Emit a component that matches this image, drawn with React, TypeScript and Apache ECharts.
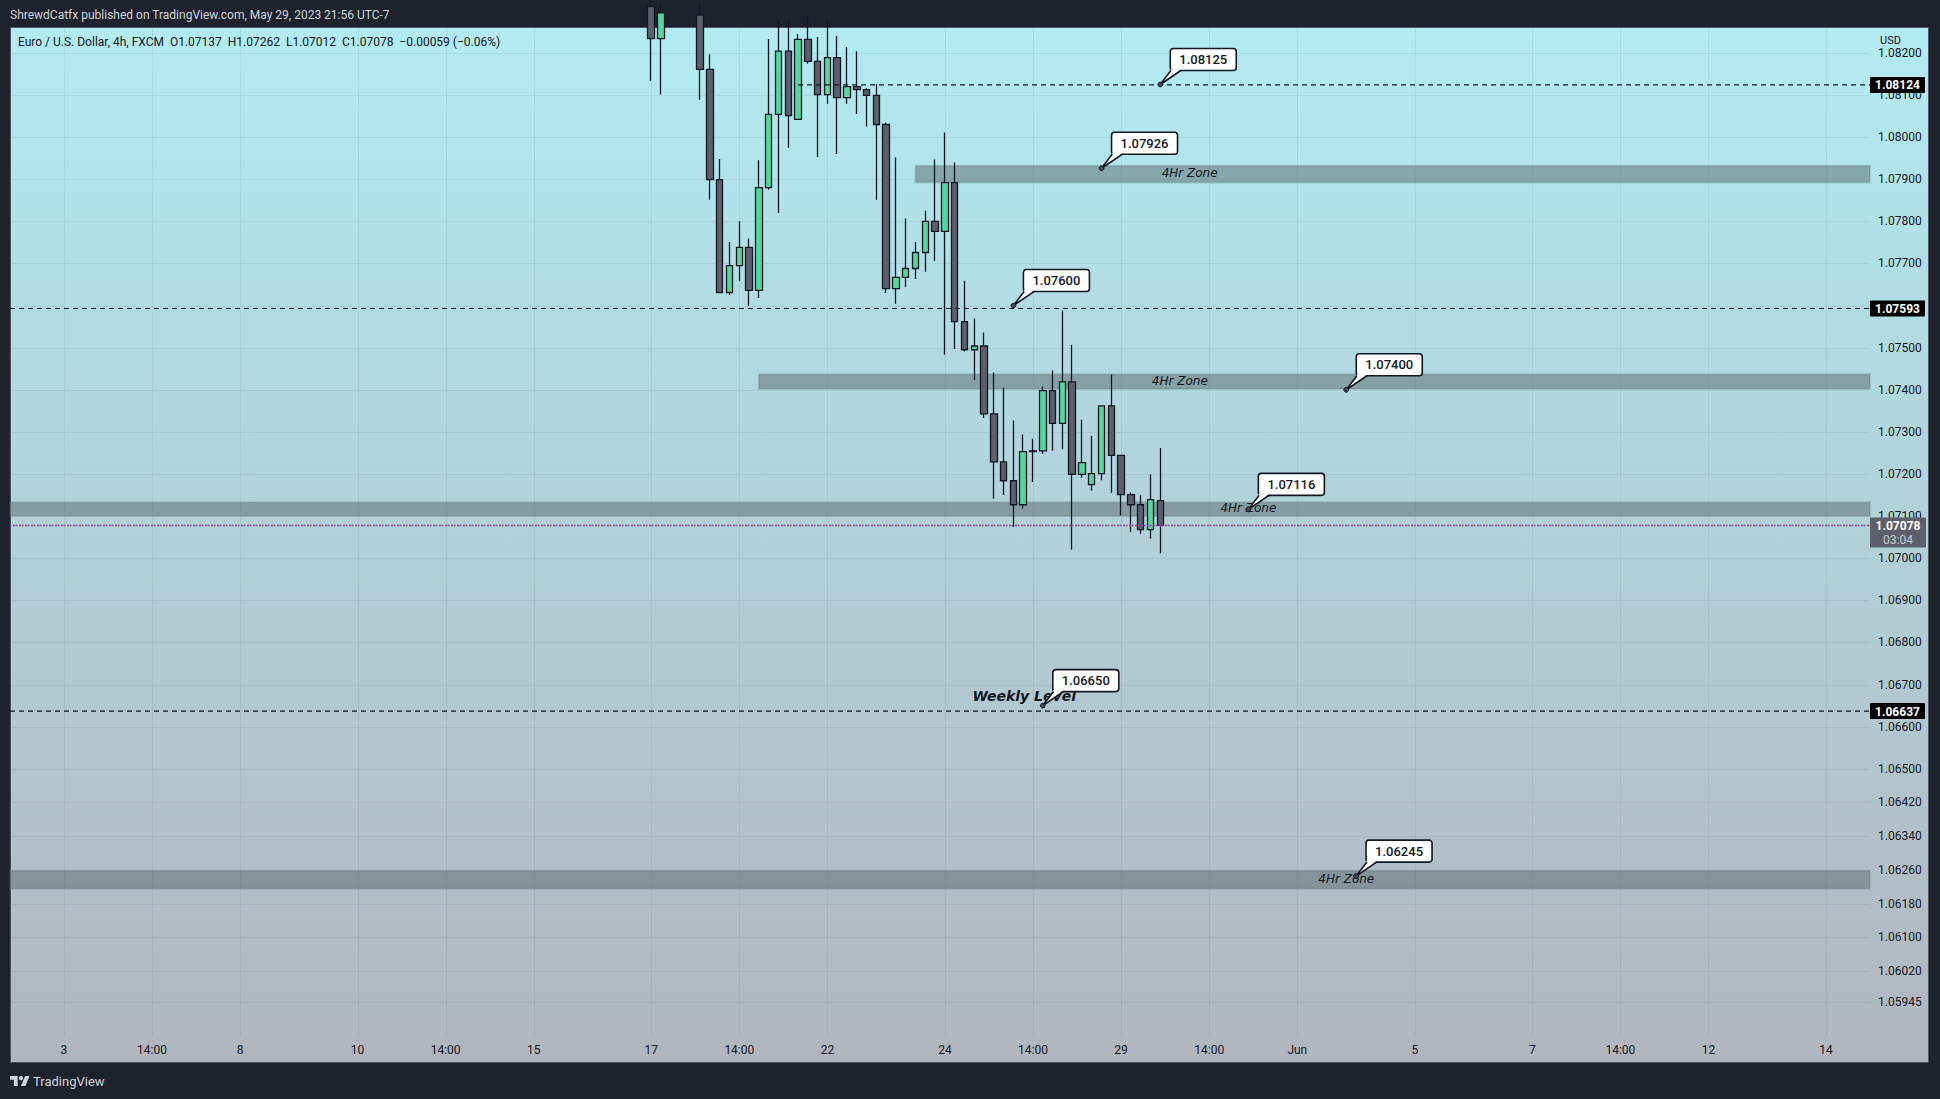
import React, { useEffect, useRef } from 'react';
import * as echarts from 'echarts';

// ---------- texts ----------
const HEADER_TEXT = 'ShrewdCatfx published on TradingView.com, May 29, 2023 21:56 UTC-7';
const SYMBOL_TEXT = 'Euro / U.S. Dollar, 4h, FXCM  O1.07137  H1.07262  L1.07012  C1.07078  \u22120.00059 (\u22120.06%)';
const CURRENCY = 'USD';
const COUNTDOWN = '03:04';
const BRAND = 'TradingView';

// ---------- time axis (4h FXCM session bars, UTC-7) ----------
const FIRST_BAR = '2023-05-02 06:00';
const BAR_COUNT = 190;
const TIME_TICK_TIMES = [
  '2023-05-03 02:00', '2023-05-04 14:00', '2023-05-08 02:00', '2023-05-10 02:00', '2023-05-11 14:00',
  '2023-05-15 02:00', '2023-05-17 02:00', '2023-05-18 14:00', '2023-05-22 02:00', '2023-05-24 02:00',
  '2023-05-25 14:00', '2023-05-29 02:00', '2023-05-30 14:00', '2023-06-01 02:00', '2023-06-05 02:00',
  '2023-06-07 02:00', '2023-06-08 14:00', '2023-06-12 02:00', '2023-06-14 02:00',
];
const TIME_TICK_LABELS = ['3', '14:00', '8', '10', '14:00', '15', '17', '14:00', '22', '24', '14:00', '29', '14:00', 'Jun', '5', '7', '14:00', '12', '14'];

// ---------- price axis ----------
const PRICE_MIN = 1.058654;
const PRICE_MAX = 1.082615;
const PRICE_TICKS = [
  1.082, 1.081, 1.08, 1.079, 1.078, 1.077, 1.076, 1.075, 1.074, 1.073, 1.072, 1.071, 1.07,
  1.069, 1.068, 1.067, 1.066, 1.065, 1.0642, 1.0634, 1.0626, 1.0618, 1.061, 1.0602, 1.05945,
];

// ---------- candles (from 2023-05-17 02:00) ----------
const CANDLE_FIRST = '2023-05-17 02:00';
const OPEN = [
  1.08310, 1.08234, 1.08295, 1.08335, 1.08300, 1.08290, 1.08161, 1.07899, 1.07631, 1.07695,
  1.07738, 1.07636, 1.07880, 1.08054, 1.08204, 1.08042, 1.08232, 1.08180, 1.08101, 1.08189,
  1.08094, 1.08120, 1.08113, 1.08099, 1.08030, 1.07640, 1.07667, 1.07688, 1.07726, 1.07800,
  1.07776, 1.07892, 1.07562, 1.07495, 1.07504, 1.07343, 1.07229, 1.07184, 1.07127, 1.07255,
  1.07255, 1.07398, 1.07320, 1.07419, 1.07199, 1.07175, 1.07201, 1.07362, 1.07244, 1.07151,
  1.07127, 1.07068, 1.07137,
];
const HIGH = [
  1.08330, 1.08320, 1.08360, 1.08380, 1.08345, 1.08320, 1.08197, 1.07948, 1.07751, 1.07800,
  1.07759, 1.07945, 1.08233, 1.08275, 1.08280, 1.08245, 1.08290, 1.08238, 1.08280, 1.08240,
  1.08214, 1.08204, 1.08116, 1.08126, 1.08035, 1.07952, 1.07807, 1.07751, 1.07825, 1.07947,
  1.08011, 1.07940, 1.07659, 1.07569, 1.07536, 1.07441, 1.07405, 1.07327, 1.07294, 1.07284,
  1.07408, 1.07446, 1.07588, 1.07507, 1.07329, 1.07291, 1.07362, 1.07436, 1.07244, 1.07156,
  1.07150, 1.07199, 1.07262,
];
const LOW = [
  1.08134, 1.08101, 1.08272, 1.08280, 1.08275, 1.08089, 1.07851, 1.07629, 1.07625, 1.07659,
  1.07599, 1.07618, 1.07875, 1.07820, 1.07975, 1.08042, 1.08174, 1.07953, 1.08079, 1.07960,
  1.08079, 1.08055, 1.08025, 1.07851, 1.07630, 1.07604, 1.07644, 1.07663, 1.07680, 1.07706,
  1.07483, 1.07497, 1.07491, 1.07423, 1.07333, 1.07141, 1.07150, 1.07074, 1.07118, 1.07181,
  1.07248, 1.07255, 1.07259, 1.07020, 1.07191, 1.07160, 1.07185, 1.07155, 1.07102, 1.07062,
  1.07058, 1.07046, 1.07012,
];
const CLOSE = [
  1.08234, 1.08295, 1.08335, 1.08300, 1.08290, 1.08161, 1.07899, 1.07631, 1.07695, 1.07738,
  1.07636, 1.07880, 1.08054, 1.08204, 1.08051, 1.08232, 1.08180, 1.08101, 1.08189, 1.08094,
  1.08120, 1.08113, 1.08099, 1.08030, 1.07640, 1.07667, 1.07688, 1.07726, 1.07800, 1.07776,
  1.07892, 1.07562, 1.07495, 1.07504, 1.07343, 1.07229, 1.07184, 1.07127, 1.07253, 1.07253,
  1.07398, 1.07320, 1.07419, 1.07199, 1.07227, 1.07201, 1.07362, 1.07244, 1.07151, 1.07127,
  1.07068, 1.07139, 1.07078,
];
const LAST_PRICE = 1.07078;

// ---------- drawings ----------
const ZONE_START = [92, 76, 0, 0]; // bar index, 0 = from the left edge
const ZONE_LOW = [1.07892, 1.07402, 1.07100, 1.06215];
const ZONE_HIGH = [1.07932, 1.07437, 1.07133, 1.06258];
const ZONE_LABEL_BAR = [120, 119, 126, 136];
const ZONE_LABEL = '4Hr Zone';

const LEVEL_PRICE = [1.08124, 1.07593, 1.06637];
const LEVEL_START = [80, 0, 0];

const CALLOUT_BAR = [117, 111, 102, 136, 126, 105, 137];
const CALLOUT_PRICE = [1.08125, 1.07926, 1.07600, 1.07400, 1.07116, 1.06650, 1.06245];

const NOTE_TEXT = ['Weekly Level'];
const NOTE_BAR = [103];
const NOTE_PRICE = [1.06672];

// ---------- colours ----------
const INK = '#131722';
const UP = '#56d69f';
const DOWN = '#5d606b';
const GRID = 'rgba(42,46,57,0.07)';
const ZONE_FILL = 'rgba(92,110,112,0.52)';
const ZONE_EDGE = 'rgba(92,110,112,0.25)';
const FONT = 'Roboto, "Noto Sans", sans-serif';

function pad(n: number) { return n < 10 ? '0' + n : '' + n; }
function fmt(d: Date) {
  return `${d.getUTCFullYear()}-${pad(d.getUTCMonth() + 1)}-${pad(d.getUTCDate())} ${pad(d.getUTCHours())}:00`;
}
function isSessionBar(d: Date) {
  const wd = d.getUTCDay();
  const h = d.getUTCHours();
  if (wd === 6) return false;
  if (wd === 0) return h >= 14;
  if (wd === 5) return h <= 10;
  return true;
}
function buildTimes(): string[] {
  const [ds, ts] = FIRST_BAR.split(' ');
  const [y, m, dd] = ds.split('-').map(Number);
  const hh = Number(ts.split(':')[0]);
  let t = Date.UTC(y, m - 1, dd, hh);
  const out: string[] = [];
  while (out.length < BAR_COUNT) {
    const d = new Date(t);
    if (isSessionBar(d)) out.push(fmt(d));
    t += 4 * 3600 * 1000;
  }
  return out;
}

export default function App() {
  const ref = useRef<HTMLDivElement>(null);

  useEffect(() => {
    const el = ref.current!;
    const chart = echarts.init(el, undefined, { renderer: 'svg' });
    echarts.graphic.registerShape(
      'tvlogo',
      echarts.graphic.extendPath('M14 22H7V11H0V4h14v18zM28 22h-8l7.5-18h8L28 22z', {})
    );

    const times = buildTimes();
    const tickIdx = TIME_TICK_TIMES.map((t) => times.indexOf(t));
    const labelMap = new Map<number, string>();
    tickIdx.forEach((i, k) => labelMap.set(i, TIME_TICK_LABELS[k]));
    const first = times.indexOf(CANDLE_FIRST);

    const candleData = times.map((_, i) => {
      const k = i - first;
      if (k < 0 || k >= OPEN.length) return ['-', '-', '-', '-'];
      return [OPEN[k], CLOSE[k], LOW[k], HIGH[k]];
    });

    const option: any = {
      animation: false,
      backgroundColor: '#1e222d',
      grid: { left: 10, top: 27, width: 1860, height: 1009, containLabel: false },
      xAxis: {
        type: 'category',
        data: times,
        boundaryGap: true,
        axisLine: { show: false },
        axisTick: { show: false },
        splitLine: { show: false },
        axisLabel: {
          interval: (i: number) => labelMap.has(i),
          formatter: (_v: string, i: number) => labelMap.get(i) ?? '',
          color: INK,
          fontSize: 12,
          fontFamily: FONT,
          margin: 8,
        },
      },
      yAxis: {
        type: 'value',
        position: 'right',
        min: PRICE_MIN,
        max: PRICE_MAX,
        scale: true,
        axisLine: { show: false },
        axisTick: { show: false },
        splitLine: { show: false },
        axisLabel: {
          customValues: PRICE_TICKS,
          formatter: (v: number) => v.toFixed(5),
          color: INK,
          fontSize: 12,
          fontFamily: FONT,
          margin: 8,
        },
      },
      graphic: {
        elements: [
          {
            type: 'rect', z: -100, silent: true,
            shape: { x: 10.5, y: 27.5, width: 1918, height: 1035 },
            style: {
              fill: new echarts.graphic.LinearGradient(0, 0, 0, 1, [
                { offset: 0, color: '#b2ebf2' },
                { offset: 1, color: '#b2b5be' },
              ]),
              stroke: '#50535e', lineWidth: 1,
            },
          },
          { type: 'text', x: 10, y: 15, silent: true, style: { text: HEADER_TEXT, fill: '#d1d4dc', font: `12px ${FONT}`, verticalAlign: 'middle' } },
          { type: 'text', x: 18, y: 42, silent: true, style: { text: SYMBOL_TEXT, fill: INK, font: `12px ${FONT}`, verticalAlign: 'middle' } },
          { type: 'text', x: 1880, y: 40, silent: true, style: { text: CURRENCY, fill: INK, font: `11px ${FONT}`, verticalAlign: 'middle' } },
          { type: 'tvlogo', x: 10, y: 1073.8, scaleX: 0.55, scaleY: 0.55, silent: true, style: { fill: '#d1d4dc' } },
          { type: 'circle', silent: true, shape: { cx: 10 + 20 * 0.55, cy: 1073.8 + 8 * 0.55, r: 4 * 0.55 }, style: { fill: '#d1d4dc' } },
          { type: 'text', x: 33, y: 1081, silent: true, style: { text: BRAND, fill: '#d1d4dc', font: `13px ${FONT}`, verticalAlign: 'middle' } },
        ],
      },
      series: [
        // horizontal grid
        {
          type: 'custom', z: 1, silent: true, clip: false,
          data: PRICE_TICKS.map((v) => [0, v]),
          renderItem: (params: any, api: any) => {
            const cs = params.coordSys;
            const y = Math.round(api.coord([0, api.value(1)])[1]) + 0.5;
            return { type: 'line', shape: { x1: cs.x, y1: y, x2: cs.x + cs.width, y2: y }, style: { stroke: GRID, lineWidth: 1 } };
          },
        },
        // vertical grid
        {
          type: 'custom', z: 1, silent: true, clip: false,
          data: tickIdx.map((i) => [i, PRICE_MIN]),
          renderItem: (params: any, api: any) => {
            const cs = params.coordSys;
            const x = Math.round(api.coord([api.value(0), PRICE_MIN])[0]) + 0.5;
            return { type: 'line', shape: { x1: x, y1: cs.y, x2: x, y2: cs.y + cs.height }, style: { stroke: GRID, lineWidth: 1 } };
          },
        },
        // zones
        {
          type: 'custom', z: 2, silent: true, clip: false,
          data: ZONE_START.map((s, i) => [s, ZONE_LOW[i], ZONE_HIGH[i]]),
          renderItem: (params: any, api: any) => {
            const i = params.dataIndex;
            const cs = params.coordSys;
            const x0 = ZONE_START[i] === 0 ? cs.x : api.coord([ZONE_START[i], ZONE_LOW[i]])[0];
            const yTop = api.coord([0, ZONE_HIGH[i]])[1];
            const yBot = api.coord([0, ZONE_LOW[i]])[1];
            const lbl = api.coord([ZONE_LABEL_BAR[i], (ZONE_LOW[i] + ZONE_HIGH[i]) / 2]);
            return {
              type: 'group',
              children: [
                { type: 'rect', shape: { x: x0, y: yTop, width: cs.x + cs.width - x0, height: yBot - yTop }, style: { fill: ZONE_FILL, stroke: ZONE_EDGE, lineWidth: 2 } },
                { type: 'text', x: lbl[0], y: lbl[1] - 1, style: { text: ZONE_LABEL, fill: INK, font: `italic 12px "DejaVu Sans", ${FONT}`, align: 'center', verticalAlign: 'middle' } },
              ],
            };
          },
        },
        // candles
        {
          type: 'candlestick', z: 3, clip: true, barWidth: 7,
          data: candleData,
          itemStyle: { color: UP, color0: DOWN, borderColor: INK, borderColor0: INK, borderWidth: 1.3 },
        },
        // horizontal levels with axis tags
        {
          type: 'custom', z: 4, silent: true, clip: false,
          data: LEVEL_PRICE.map((p, i) => [LEVEL_START[i], p]),
          renderItem: (params: any, api: any) => {
            const i = params.dataIndex;
            const cs = params.coordSys;
            const y = api.coord([0, LEVEL_PRICE[i]])[1];
            const x0 = LEVEL_START[i] === 0 ? cs.x : api.coord([LEVEL_START[i], LEVEL_PRICE[i]])[0];
            const xr = cs.x + cs.width;
            return {
              type: 'group',
              children: [
                { type: 'line', shape: { x1: x0, y1: y, x2: xr, y2: y }, style: { stroke: INK, lineWidth: 1.2, lineDash: [5, 4] } },
                { type: 'rect', shape: { x: xr, y: y - 8, width: 55, height: 16, r: 1 }, style: { fill: '#000000' } },
                { type: 'text', x: xr + 27.5, y: y + 0.5, style: { text: LEVEL_PRICE[i].toFixed(5), fill: '#ffffff', font: `bold 12px ${FONT}`, align: 'center', verticalAlign: 'middle' } },
              ],
            };
          },
        },
        // last price line + tag
        {
          type: 'custom', z: 4, silent: true, clip: false,
          data: [[0, LAST_PRICE]],
          renderItem: (params: any, api: any) => {
            const cs = params.coordSys;
            const y = Math.round(api.coord([0, LAST_PRICE])[1]) + 0.5;
            const xr = cs.x + cs.width;
            return {
              type: 'group',
              children: [
                { type: 'line', shape: { x1: cs.x, y1: y, x2: xr, y2: y }, style: { stroke: '#2962ff', lineWidth: 1.3, lineDash: [1.5, 1.5] } },
                { type: 'line', shape: { x1: cs.x, y1: y, x2: xr, y2: y }, style: { stroke: '#f23645', lineWidth: 1.3, lineDash: [1.5, 4.5], lineDashOffset: 1.5 } },
                { type: 'rect', shape: { x: xr, y: y - 8, width: 56, height: 30, r: 1 }, style: { fill: '#5d606b' } },
                { type: 'text', x: xr + 28, y: y + 0.5, style: { text: LAST_PRICE.toFixed(5), fill: '#ffffff', font: `bold 12px ${FONT}`, align: 'center', verticalAlign: 'middle' } },
                { type: 'text', x: xr + 28, y: y + 14.5, style: { text: COUNTDOWN, fill: '#c8cad1', font: `12px ${FONT}`, align: 'center', verticalAlign: 'middle' } },
              ],
            };
          },
        },
        // notes
        {
          type: 'custom', z: 5, silent: true, clip: false,
          data: NOTE_BAR.map((b, i) => [b, NOTE_PRICE[i]]),
          renderItem: (params: any, api: any) => {
            const i = params.dataIndex;
            const p = api.coord([NOTE_BAR[i], NOTE_PRICE[i]]);
            return { type: 'text', x: p[0] + 1, y: p[1], style: { text: NOTE_TEXT[i], fill: INK, font: `italic bold 14px "DejaVu Sans", ${FONT}`, align: 'center', verticalAlign: 'middle' } };
          },
        },
        // callouts
        {
          type: 'custom', z: 6, silent: true, clip: false,
          data: CALLOUT_BAR.map((b, i) => [b, CALLOUT_PRICE[i]]),
          renderItem: (params: any, api: any) => {
            const i = params.dataIndex;
            const [x, y] = api.coord([CALLOUT_BAR[i], CALLOUT_PRICE[i]]);
            return {
              type: 'group',
              children: [
                { type: 'rect', shape: { x: x + 10, y: y - 36, width: 66, height: 22, r: 3 }, style: { fill: '#ffffff', stroke: INK, lineWidth: 1.6 } },
                { type: 'polygon', shape: { points: [[x, y], [x + 10.8, y - 15.6], [x + 21, y - 15.6]] }, style: { fill: '#ffffff' } },
                { type: 'polyline', shape: { points: [[x + 10.8, y - 14.2], [x, y], [x + 21, y - 14.2]] }, style: { stroke: INK, lineWidth: 1.6, fill: null } },
                { type: 'circle', shape: { cx: x, cy: y, r: 2.4 }, style: { fill: '#434651', stroke: INK, lineWidth: 1 } },
                { type: 'text', x: x + 43, y: y - 25, style: { text: CALLOUT_PRICE[i].toFixed(5), fill: INK, font: `500 13px ${FONT}`, align: 'center', verticalAlign: 'middle' } },
              ],
            };
          },
        },
      ],
    };

    chart.setOption(option);
    return () => chart.dispose();
  }, []);

  return <div ref={ref} style={{ position: 'fixed', left: 0, top: 0, width: 1940, height: 1099 }} />;
}
